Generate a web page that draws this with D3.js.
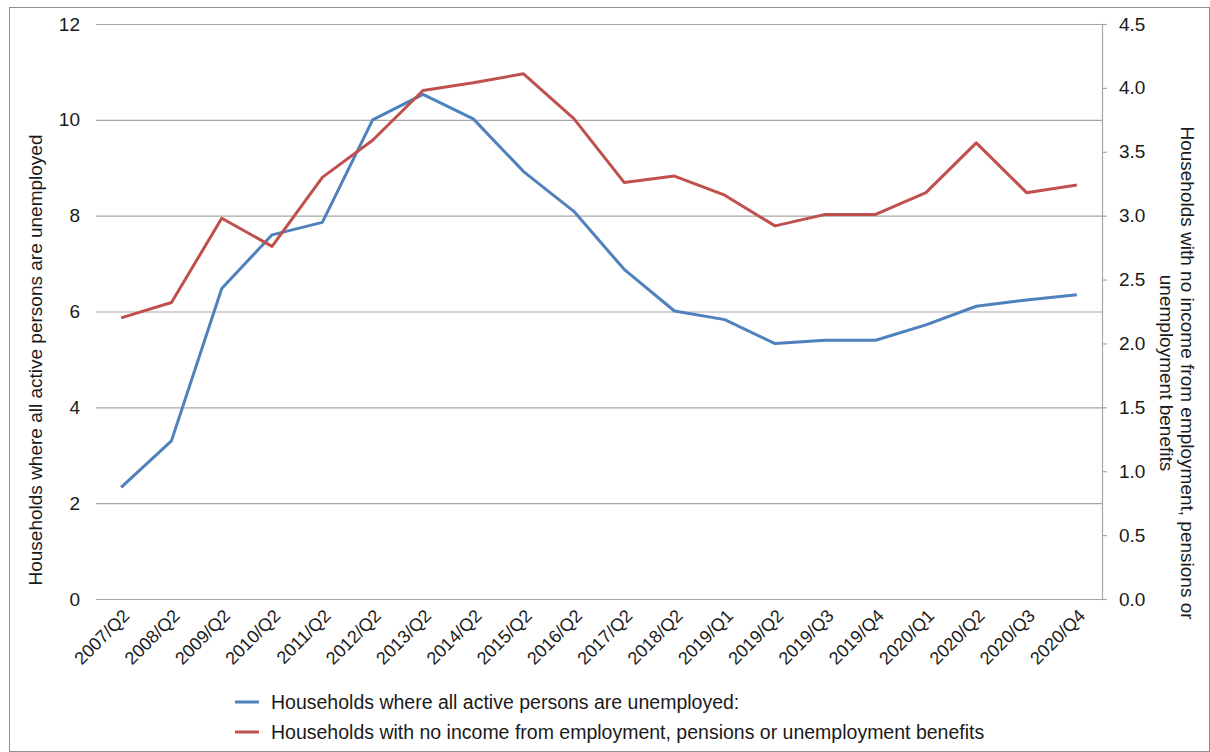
<!DOCTYPE html>
<html>
<head>
<meta charset="utf-8">
<script src="https://cdn.jsdelivr.net/npm/d3@7"></script>
<style>
  html, body { margin: 0; padding: 0; background: #fff; }
  svg { display: block; font-family: "Liberation Sans", Arial, sans-serif; }
</style>
</head>
<body>
<svg id="chart" width="1210" height="752"></svg>
<script>
// Quarterly periods on the horizontal axis
const quarters = [
  "2007/Q2", "2008/Q2", "2009/Q2", "2010/Q2", "2011/Q2", "2012/Q2", "2013/Q2",
  "2014/Q2", "2015/Q2", "2016/Q2", "2017/Q2", "2018/Q2", "2019/Q1", "2019/Q2",
  "2019/Q3", "2019/Q4", "2020/Q1", "2020/Q2", "2020/Q3", "2020/Q4"
];

// Households where all active persons are unemployed (left axis)
const allUnemployed = [
  2.33, 3.30, 6.48, 7.60, 7.86, 10.0, 10.53,
  10.02, 8.92, 8.09, 6.88, 6.01, 5.83, 5.33,
  5.40, 5.40, 5.72, 6.11, 6.24, 6.35
];

// Households with no income from employment, pensions or unemployment benefits (right axis)
const noIncome = [
  2.20, 2.32, 2.98, 2.76, 3.30, 3.59, 3.98,
  4.04, 4.11, 3.76, 3.26, 3.31, 3.16, 2.92,
  3.01, 3.01, 3.18, 3.57, 3.18, 3.24
];

const leftTicks = [0, 2, 4, 6, 8, 10, 12];
const rightTicks = [0, 0.5, 1, 1.5, 2, 2.5, 3, 3.5, 4, 4.5];

const seriesNames = [
  "Households where all active persons are unemployed:",
  "Households with no income from employment, pensions or unemployment benefits"
];
const seriesColors = ["#4F81BD", "#C0504D"];

const svg = d3.select("#chart");
const W = 1210, H = 752;
const plot = { left: 96, right: 1102, top: 24, bottom: 599 };
const ink = "#1a1a1a";

// Outer frame
svg.append("rect")
  .attr("x", 9.5).attr("y", 7.5)
  .attr("width", W - 10).attr("height", H - 8)
  .attr("fill", "#fff").attr("stroke", "#8c8c8c").attr("stroke-width", 1);

const x = d3.scalePoint().domain(quarters).range([plot.left, plot.right]).padding(0.5);
const yL = d3.scaleLinear().domain([0, 12]).range([plot.bottom, plot.top]);
const yR = d3.scaleLinear().domain([0, 4.5]).range([plot.bottom, plot.top]);

// Horizontal gridlines and left-axis labels
const leftAxis = svg.append("g")
  .attr("transform", `translate(${plot.left},0)`)
  .call(d3.axisLeft(yL).tickValues(leftTicks).tickSize(-(plot.right - plot.left)).tickPadding(16));
leftAxis.select(".domain").remove();
leftAxis.selectAll(".tick line").attr("stroke", "#a6a6a6").attr("stroke-width", 1.2);
leftAxis.selectAll(".tick text")
  .attr("font-size", 19).attr("fill", ink)
  .attr("font-family", "Liberation Sans, Arial, sans-serif");

// Right axis
const rightAxis = svg.append("g")
  .attr("transform", `translate(${plot.right},0)`)
  .call(d3.axisRight(yR).tickValues(rightTicks).tickSize(5).tickPadding(12).tickFormat(d3.format(".1f")));
rightAxis.select(".domain").attr("stroke", "#a6a6a6").attr("stroke-width", 1.2);
rightAxis.selectAll(".tick line").attr("stroke", "#a6a6a6").attr("stroke-width", 1.2);
rightAxis.selectAll(".tick text")
  .attr("font-size", 19).attr("fill", ink)
  .attr("font-family", "Liberation Sans, Arial, sans-serif");

// Category axis with slanted labels
const bottomAxis = svg.append("g")
  .attr("transform", `translate(0,${plot.bottom})`)
  .call(d3.axisBottom(x).tickSize(0).tickPadding(0));
bottomAxis.select(".domain").attr("stroke", "#a6a6a6").attr("stroke-width", 1.2);
bottomAxis.selectAll(".tick text")
  .attr("font-size", 18).attr("fill", ink)
  .attr("font-family", "Liberation Sans, Arial, sans-serif")
  .attr("text-anchor", "end")
  .attr("dy", 0)
  .attr("transform", "translate(9,18) rotate(-45)");

// Lines
const lineL = d3.line().x((d, i) => x(quarters[i])).y(d => yL(d));
const lineR = d3.line().x((d, i) => x(quarters[i])).y(d => yR(d));

svg.append("path").datum(allUnemployed)
  .attr("d", lineL).attr("fill", "none")
  .attr("stroke", seriesColors[0]).attr("stroke-width", 3).attr("stroke-linejoin", "round");
svg.append("path").datum(noIncome)
  .attr("d", lineR).attr("fill", "none")
  .attr("stroke", seriesColors[1]).attr("stroke-width", 3).attr("stroke-linejoin", "round");

// Axis titles
svg.append("text")
  .attr("transform", "translate(42,360) rotate(-90)")
  .attr("text-anchor", "middle")
  .attr("font-size", 19).attr("fill", ink)
  .text("Households where all active persons are unemployed");

const rt = svg.append("text")
  .attr("transform", "translate(1181,373) rotate(90)")
  .attr("text-anchor", "middle")
  .attr("font-size", 19).attr("fill", ink);
rt.append("tspan").attr("x", 0).attr("dy", 0)
  .text("Households with no income from employment, pensions or");
rt.append("tspan").attr("x", 0).attr("dy", 21)
  .text("unemployment benefits");

// Legend
const legend = svg.append("g");
seriesNames.forEach((name, i) => {
  const ly = 702 + i * 30;
  legend.append("line")
    .attr("x1", 235).attr("x2", 259).attr("y1", ly).attr("y2", ly)
    .attr("stroke", seriesColors[i]).attr("stroke-width", 3);
  legend.append("text")
    .attr("x", 271).attr("y", ly).attr("dy", "0.35em")
    .attr("font-size", 19.5).attr("fill", ink)
    .text(name);
});
</script>
</body>
</html>
